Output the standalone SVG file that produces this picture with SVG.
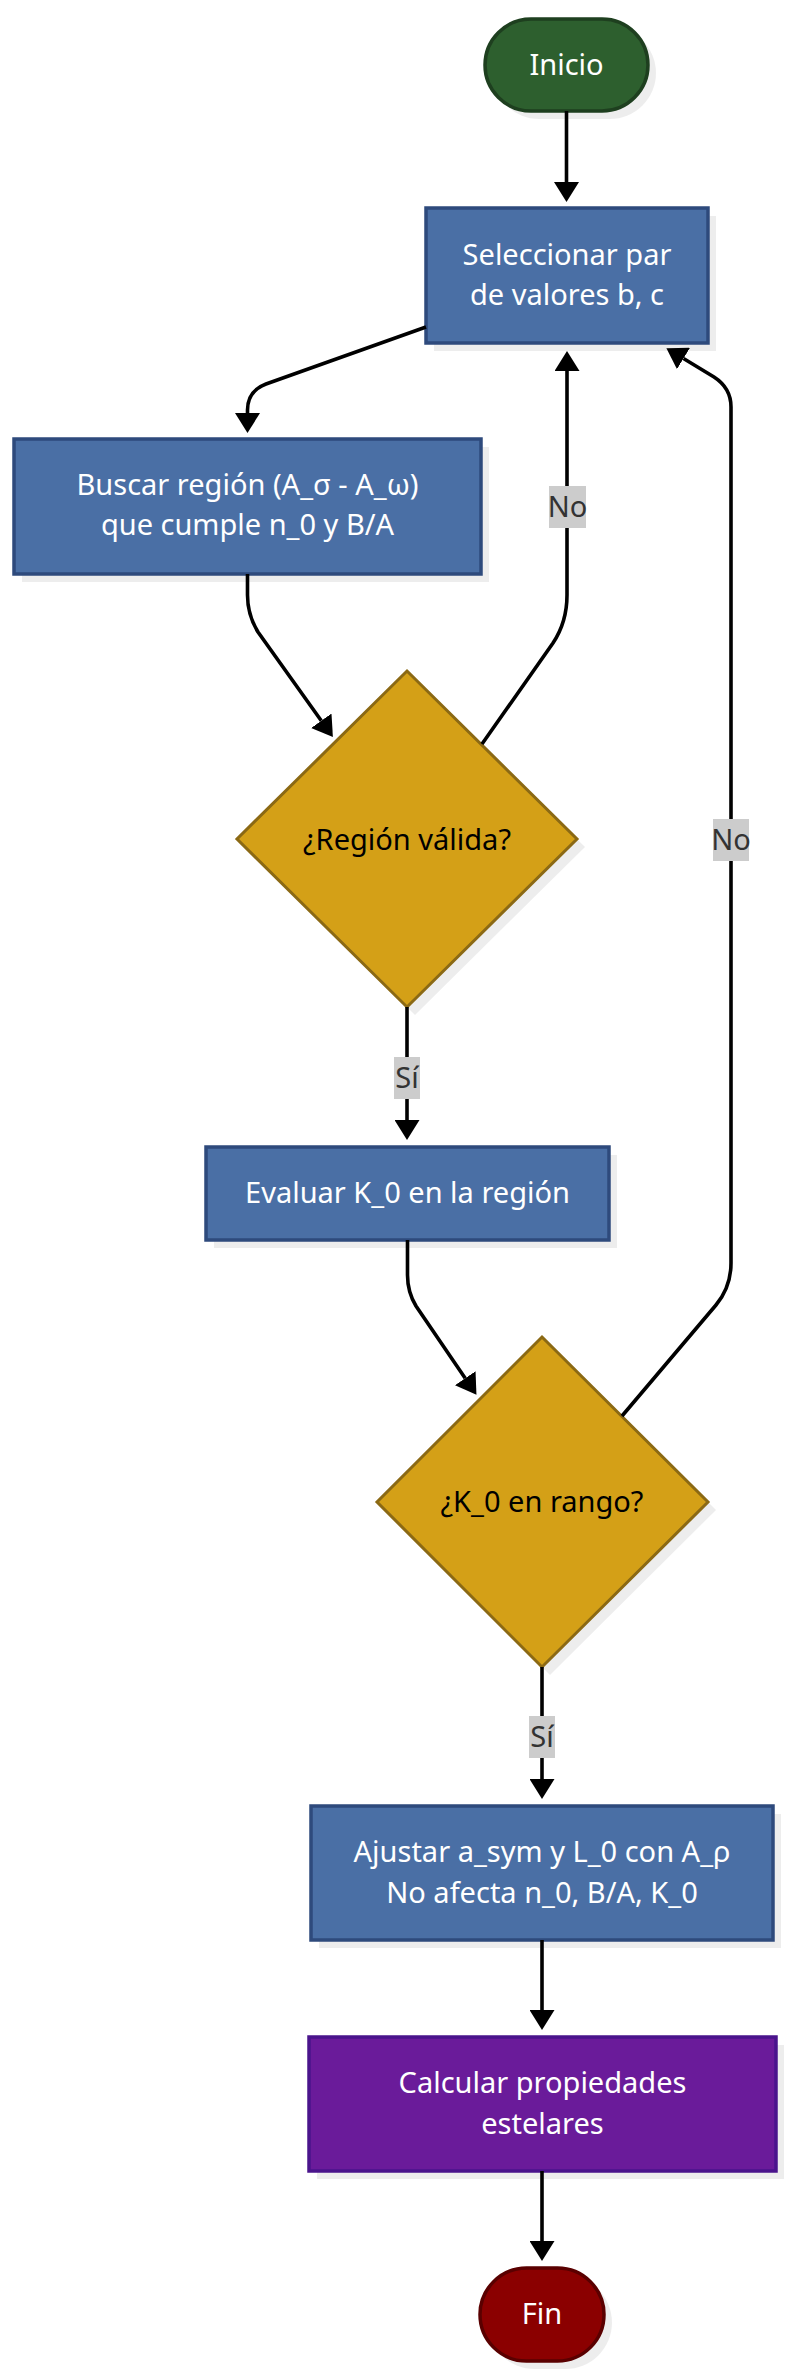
<svg xmlns="http://www.w3.org/2000/svg" width="790" height="2380" viewBox="0 0 790 2380">
<style>
.t{font-family:"Noto Sans","Open Sans","DejaVu Sans",sans-serif;font-size:29px;text-anchor:middle}
.w{fill:#ffffff}
.k{fill:#000000}
.lbl{fill:#333333}
.sh{fill:#000000;fill-opacity:0.07}
.blue{fill:#4a6fa5;stroke:#2e4a7c;stroke-width:3.5}
.gold{fill:#d4a017;stroke:#8b6914;stroke-width:3}
.edge{fill:none;stroke:#000000;stroke-width:3.6}
.lb{fill:#cccccc}
</style>
<defs>
<marker id="arr" markerUnits="userSpaceOnUse" markerWidth="20" markerHeight="25" viewBox="0 0 20 25" refX="0" refY="12.5" orient="auto">
<path d="M0,0 L20,12.5 L0,25 z" fill="#000000"/>
</marker>
</defs>

<g id="inicio">
<rect class="sh" x="493" y="27" width="163" height="92" rx="46"/>
<rect x="485" y="19" width="163" height="92" rx="46" fill="#2d5f2e" stroke="#1e3f1f" stroke-width="3.5"/>
<text class="t w" x="566.5" y="75">Inicio</text>
</g>

<g id="seleccionar">
<rect class="sh" x="434" y="216" width="282" height="135"/>
<rect class="blue" x="426" y="208" width="282" height="135"/>
<text class="t w" x="567" y="265">Seleccionar par</text>
<text class="t w" x="567" y="305">de valores b, c</text>
</g>

<g id="buscar">
<rect class="sh" x="22" y="447" width="467" height="135"/>
<rect class="blue" x="14" y="439" width="467" height="135"/>
<text class="t w" x="247.5" y="495">Buscar región (A_σ - A_ω)</text>
<text class="t w" x="247.5" y="535">que cumple n_0 y B/A</text>
</g>

<g id="region_valida">
<polygon class="sh" points="415,679 585,847 415,1015 245,847"/>
<polygon class="gold" points="407,671 577,839 407,1007 237,839"/>
<text class="t k" x="407" y="850">¿Región válida?</text>
</g>

<g id="evaluar">
<rect class="sh" x="214" y="1155" width="403" height="93"/>
<rect class="blue" x="206" y="1147" width="403" height="93"/>
<text class="t w" x="407.5" y="1203">Evaluar K_0 en la región</text>
</g>

<g id="k0_rango">
<polygon class="sh" points="550,1345 716,1510 550,1675 385,1510"/>
<polygon class="gold" points="542,1337 708,1502 542,1667 377,1502"/>
<text class="t k" x="542" y="1512">¿K_0 en rango?</text>
</g>

<g id="ajustar">
<rect class="sh" x="319" y="1814" width="462" height="134"/>
<rect class="blue" x="311" y="1806" width="462" height="134"/>
<text class="t w" x="542" y="1862">Ajustar a_sym y L_0 con A_ρ</text>
<text class="t w" x="542" y="1903">No afecta n_0, B/A, K_0</text>
</g>

<g id="calcular">
<rect class="sh" x="317" y="2045" width="467" height="134"/>
<rect x="309" y="2037" width="467" height="134" fill="#6a1b9a" stroke="#4a148c" stroke-width="3.5"/>
<text class="t w" x="542.5" y="2093">Calcular propiedades</text>
<text class="t w" x="542.5" y="2134">estelares</text>
</g>

<g id="fin">
<rect class="sh" x="488" y="2276" width="124" height="93" rx="46.5"/>
<rect x="480" y="2268" width="124" height="93" rx="46.5" fill="#8b0000" stroke="#5a0000" stroke-width="3.5"/>
<text class="t w" x="542" y="2324">Fin</text>
</g>

<g id="connectors">
<path class="edge" marker-end="url(#arr)" d="M566.5,111 L566.5,182"/>
<path class="edge" marker-end="url(#arr)" d="M426,327 L266,384 Q247.5,391 247.5,410 L247.5,413"/>
<path class="edge" marker-end="url(#arr)" d="M247.5,574 L247.5,595 Q247.5,615 258,632 L321.3,720.8"/>
<path class="edge" marker-end="url(#arr)" d="M482,744 L553,643 Q567,622 567,595 L567,371"/>
<path class="edge" marker-end="url(#arr)" d="M407,1007 L407,1120"/>
<path class="edge" marker-end="url(#arr)" d="M407.5,1240 L407.5,1275 Q407.5,1292 416,1306 L465.2,1378.2"/>
<path class="edge" marker-end="url(#arr)" d="M622,1416 L716,1305 Q731,1287 731,1263 L731,407 Q731,388 714,377 L683.5,358.5"/>
<path class="edge" marker-end="url(#arr)" d="M542,1667 L542,1779"/>
<path class="edge" marker-end="url(#arr)" d="M542,1940 L542,2010"/>
<path class="edge" marker-end="url(#arr)" d="M542,2171 L542,2241"/>
<rect class="lb" x="549" y="486" width="37" height="42"/>
<text class="t lbl" x="567.5" y="517">No</text>
<rect class="lb" x="713" y="819" width="36" height="42"/>
<text class="t lbl" x="731" y="850">No</text>
<rect class="lb" x="394" y="1057" width="26" height="42"/>
<text class="t lbl" x="407" y="1088">Sí</text>
<rect class="lb" x="529" y="1716" width="26" height="42"/>
<text class="t lbl" x="542" y="1747">Sí</text>
</g>
</svg>
